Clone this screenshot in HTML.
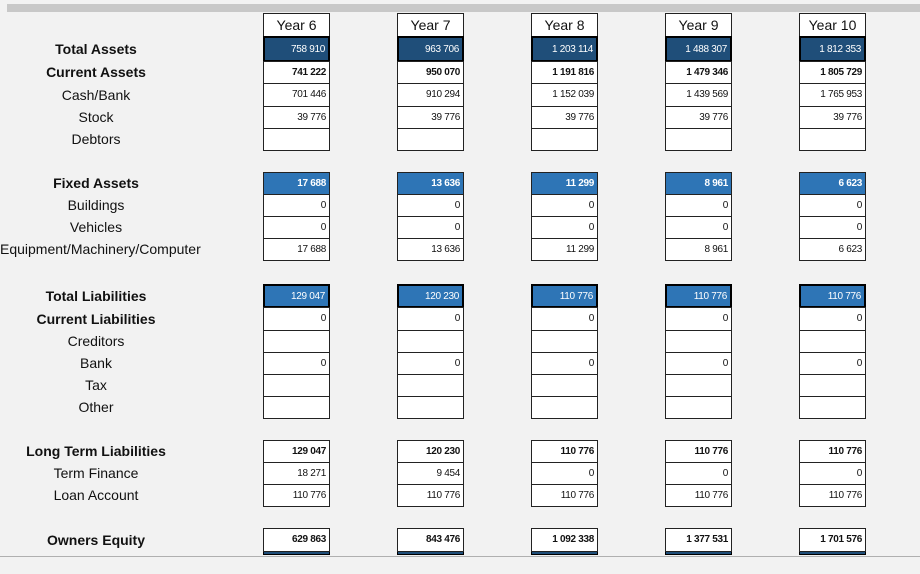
<!DOCTYPE html>
<html><head><meta charset="utf-8"><style>
body{margin:0;background:#f2f2f2;width:920px;height:574px;overflow:hidden;position:relative;font-family:"Liberation Sans",sans-serif}
.bar{position:absolute;left:7px;top:4px;width:913px;height:8px;background:#c8c8c8}
.bl{position:absolute;left:0;top:556px;width:920px;height:1px;background:#b0b0b0}
.lab{position:absolute;left:0;width:192px;text-align:center;font-size:14px;color:#111;line-height:22px}
.lab.b{font-weight:bold}
.c{position:absolute;box-sizing:border-box;border:1px solid #222;background:#fff;font-size:10px;text-align:right;padding-right:3px;color:#111;letter-spacing:-0.3px}
.hd{text-align:center;font-size:14px;padding:0;letter-spacing:0}
.dk{background:#1f4e79;color:#fff;border:2px solid #000}
.md{background:#2e75b6;color:#fff}
.mdk{background:#2e75b6;color:#fff;border:2px solid #000}
.bo{font-weight:bold}
</style></head><body>
<div class="bar"></div>
<div class="bl"></div>
<div id="root"></div>
<script>
const years=["Year 6","Year 7","Year 8","Year 9","Year 10"];
const colX=[263,397,531,665,799];
const rows=[
["Total Assets",36,25,"dk",true,["758 910","963 706","1 203 114","1 488 307","1 812 353"]],
["Current Assets",61,22,"bo",true,["741 222","950 070","1 191 816","1 479 346","1 805 729"]],
["Cash/Bank",83,23,"",false,["701 446","910 294","1 152 039","1 439 569","1 765 953"]],
["Stock",106,22,"",false,["39 776","39 776","39 776","39 776","39 776"]],
["Debtors",128,22,"",false,["","","","",""]],
["Fixed Assets",172,22,"md bo",true,["17 688","13 636","11 299","8 961","6 623"]],
["Buildings",194,22,"",false,["0","0","0","0","0"]],
["Vehicles",216,22,"",false,["0","0","0","0","0"]],
["Equipment/Machinery/Computer",238,22,"",false,["17 688","13 636","11 299","8 961","6 623"]],
["Total Liabilities",284,23,"mdk",true,["129 047","120 230","110 776","110 776","110 776"]],
["Current Liabilities",307,23,"",true,["0","0","0","0","0"]],
["Creditors",330,22,"",false,["","","","",""]],
["Bank",352,22,"",false,["0","0","0","0","0"]],
["Tax",374,22,"",false,["","","","",""]],
["Other",396,22,"",false,["","","","",""]],
["Long Term Liabilities",440,22,"bo",true,["129 047","120 230","110 776","110 776","110 776"]],
["Term Finance",462,22,"",false,["18 271","9 454","0","0","0"]],
["Loan Account",484,22,"",false,["110 776","110 776","110 776","110 776","110 776"]],
["Owners Equity",528,23,"bo",true,["629 863","843 476","1 092 338","1 377 531","1 701 576"]]
];
const root=document.getElementById('root');
function mk(cls,x,y,w,h,t){const d=document.createElement('div');d.className=cls;d.style.left=x+'px';d.style.top=y+'px';d.style.width=w+'px';d.style.height=h+'px';d.style.lineHeight=(h-2)+'px';d.textContent=t;root.appendChild(d);return d;}
years.forEach((y,i)=>{const d=mk('c hd',colX[i],13,67,24,y);


const s=document.createElement('div');s.style.cssText='position:absolute;left:'+colX[i]+'px;top:550px;width:67px;height:5px;background:#1f4e79;border:1px solid #000;box-sizing:border-box';


root.appendChild(s);});
rows.forEach(r=>{
const l=document.createElement('div');l.className='lab'+(r[4]?' b':'');l.style.top=(r[1]+r[2]/2-11)+'px';l.textContent=r[0];


root.appendChild(l);
r[5].forEach((v,i)=>{const d=mk('c '+r[3],colX[i],r[1],67,r[2]+1,v);

});
});
</script>
</body></html>
